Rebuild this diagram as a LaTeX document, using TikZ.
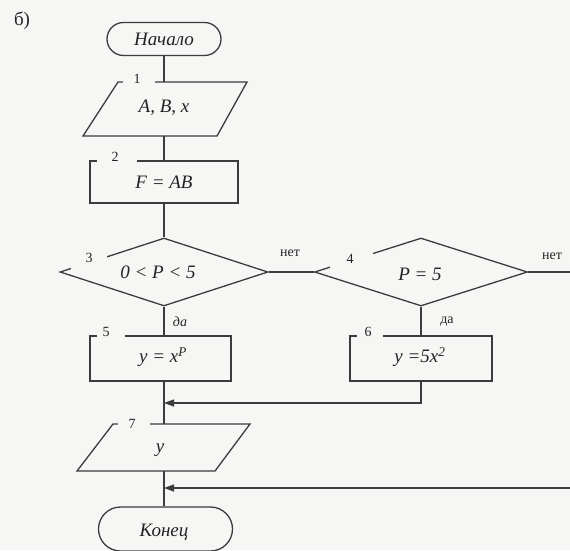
\documentclass[tikz,border=0pt]{standalone}
\usepackage{fontspec}
\setmainfont{Liberation Serif}
\usetikzlibrary{shapes.geometric,shapes.misc,arrows.meta}
\definecolor{bg}{RGB}{246,246,244}
\definecolor{ink}{RGB}{60,60,60}
\definecolor{txtc}{RGB}{35,35,35}
\begin{document}
\begin{tikzpicture}[x=1pt,y=-1pt,
  line/.style={draw=ink,line width=1.3pt},
  txt/.style={font=\fontsize{19}{21}\selectfont\itshape,text=txtc,inner sep=0pt},
  num/.style={font=\fontsize{14}{16}\selectfont,text=txtc,inner sep=0pt},
  term/.style={rounded rectangle,line,inner sep=0pt,txt},
  proc/.style={rectangle,line,inner sep=0pt,txt},
  cond/.style={diamond,line,inner sep=0pt,txt},
  gapfill/.style={fill=bg},
  arr/.style={line,-{Triangle[length=10pt,width=7pt]}}]
\fill[bg] (0,0) rectangle (570,550);
\useasboundingbox (0,0) rectangle (570,550);

\node[num,font=\fontsize{19}{21}\selectfont] (tag) at (22,21) {б)};

% blocks
\node[term,minimum width=114pt,minimum height=33pt] (start) at (164,39) {Начало};

\coordinate (p1a) at (118,82);
\coordinate (p1b) at (247,82);
\coordinate (p1c) at (217,136);
\coordinate (p1d) at (83,136);
\draw[line,line join=miter] (p1a) -- (p1b) -- (p1c) -- (p1d) -- cycle;
\node[txt] (in1) at (164,108) {A, B, x};

\node[proc,minimum width=148pt,minimum height=42pt] (r2) at (164,182) {F = AB};

\node[cond,minimum width=208pt,minimum height=68pt] (d3) at (164,272) {};
\node[txt] (t3) at (158,272) {0 < P < 5};

\node[cond,minimum width=213pt,minimum height=68pt] (d4) at (421,272) {};
\node[txt] (t4) at (420,274) {P = 5};

\node[proc,minimum width=141pt,minimum height=45pt] (r5) at (160.5,358.5) {};
\node[txt] (t5) at (163,357) {y = x\textsuperscript{P}};

\node[proc,minimum width=142pt,minimum height=45pt] (r6) at (421,358.5) {};
\node[txt] (t6) at (420,357) {y =5x\textsuperscript{2}};

\coordinate (p7a) at (113,424);
\coordinate (p7b) at (250,424);
\coordinate (p7c) at (215,471);
\coordinate (p7d) at (77,471);
\draw[line,line join=miter] (p7a) -- (p7b) -- (p7c) -- (p7d) -- cycle;
\node[txt] (out7) at (160,450) {y};

\node[term,minimum width=134pt,minimum height=44pt] (stop) at (165.5,529) {};
\node[txt] (tstop) at (164,532) {Конец};

% connectors
\coordinate (j1) at (164,403);
\coordinate (j2) at (164,488);
\coordinate (e1) at (570,272);
\coordinate (e2) at (570,488);

\draw[line] (start.south) -- (start.south |- p1a);
\draw[line] (r2.north |- p1d) -- (r2.north);
\draw[line] (r2.south) -- (d3.north);
\draw[line] (d3.east) -- (d4.west);
\draw[line] (d4.east) -- (e1);
\draw[line] (d3.south) -- (d3.south |- r5.north);
\draw[line] (d4.south) -- (d4.south |- r6.north);
\draw[line] (d3.south |- r5.south) -- (d3.south |- p7a);
\draw[arr] (d4.south |- r6.south) |- (j1);
\draw[line] (d3.south |- p7d) -- (d3.south |- stop.north);
\draw[arr] (e2) -- (j2);

% gaps for block numbers
\fill[gapfill] (123,76) rectangle (155,88);
\fill[gapfill] (97,155) rectangle (137,167);
\fill[gapfill] (71,249) rectangle (107,270);
\fill[gapfill] (330,248) rectangle (373,270);
\fill[gapfill] (97,330) rectangle (125,342);
\fill[gapfill] (357,330) rectangle (383,342);
\fill[gapfill] (118,418) rectangle (150,430);

% block numbers
\node[num] (n1) at (137,79) {1};
\node[num] (n2) at (115,157) {2};
\node[num] (n3) at (89,258) {3};
\node[num] (n4) at (350,259) {4};
\node[num] (n5) at (106,332) {5};
\node[num] (n6) at (368,332) {6};
\node[num] (n7) at (132,424) {7};

% branch labels
\node[num] (no1) at (290,253) {нет};
\node[num] (no2) at (552,256) {нет};
\node[num,font=\fontsize{14}{16}\selectfont\itshape] (yes1) at (180,322) {да};
\node[num] (yes2) at (447,322) {да};
\end{tikzpicture}
\end{document}
